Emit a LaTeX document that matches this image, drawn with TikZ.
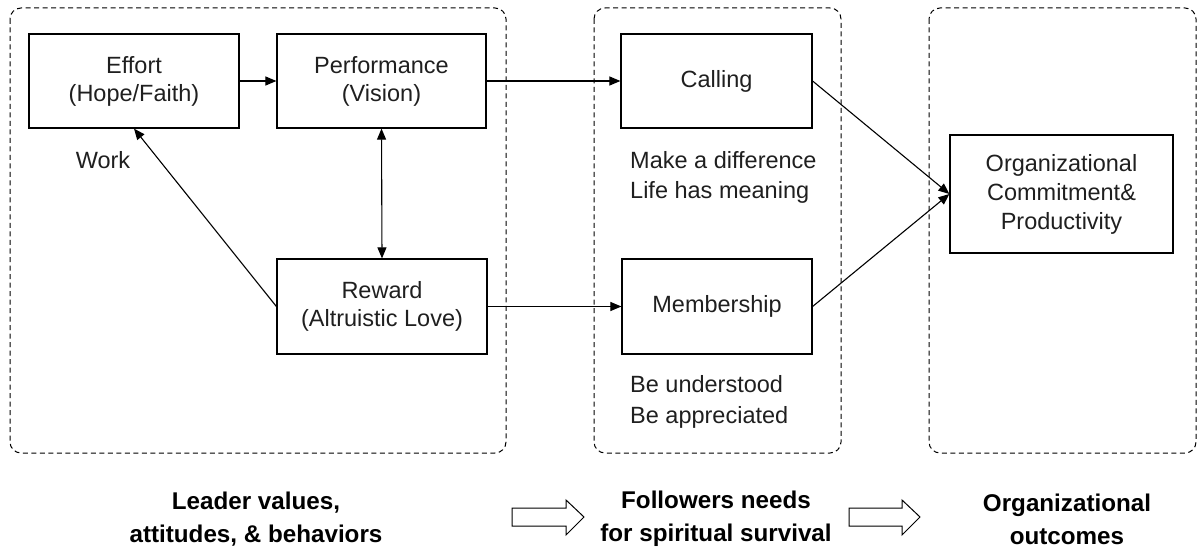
\documentclass[tikz,border=0pt]{standalone}
\usepackage{fontspec}
\setmainfont{Liberation Sans}
\usetikzlibrary{arrows.meta}
\begin{document}
\begin{tikzpicture}[x=1pt,y=-1pt,
  every node/.style={font=\fontsize{23.5}{28}\selectfont, text=black!88},
  box/.style={draw, line width=1.2pt, align=center, inner sep=0pt},
  group/.style={draw, dashed, dash pattern=on 5pt off 3.5pt, line width=1pt, rounded corners=11pt},
  link/.style={line width=1.1pt, -{Triangle[length=11pt,width=9pt]}},
  note/.style={anchor=west, inner sep=0pt},
  caption/.style={font=\fontsize{24.2}{33}\bfseries\selectfont, align=center, text=black},
  hollow/.style={draw, line width=1pt, fill=white}]
\useasboundingbox (0,0) rectangle (1202,548);

% grouping frames
\draw[group] (10,8) rectangle (506,453);
\draw[group] (594,8) rectangle (841,453);
\draw[group] (929,8) rectangle (1196,453);

% leader boxes
\node[box, minimum width=210pt, minimum height=94pt] (effort) at (134,81) {Effort\\(Hope/Faith)};
\node[box, minimum width=209pt, minimum height=94pt] (perf) at (381.5,81) {Performance\\(Vision)};
\node[box, minimum width=210pt, minimum height=95pt] (reward) at (382,306.5) {Reward\\(Altruistic Love)};

% follower boxes
\node[box, minimum width=191pt, minimum height=94pt] (calling) at (716.5,81) {Calling};
\node[box, minimum width=190pt, minimum height=95pt] (member) at (717,306.5) {Membership};

% outcome box
\node[box, minimum width=223pt, minimum height=118pt, font=\fontsize{23.5}{29}\selectfont] (org) at (1061.5,194) {Organizational\\Commitment\&\\Productivity};

% annotations
\node (work) at (103,160) {Work};
\node[note] (diff) at (630,160) {Make a difference};
\node[note] (life) at (630,192) {Life has meaning};
\node[note] (under) at (630,384) {Be understood};
\node[note] (appr) at (630,417) {Be appreciated};

% connectors
\draw[link] (effort.east) -- (perf.west);
\draw[link] (perf.east) -- (calling.west);
\draw[link] (reward.east) -- (member.west);
\draw[line width=1.1pt, {Triangle[length=11pt,width=9pt]}-{Triangle[length=11pt,width=9pt]}] (perf.south) -- (reward.north);
\draw[link] (reward.west) -- (effort.south);
\draw[link] (calling.east) -- (org.west);
\draw[link] (member.east) -- (org.west);

% stage captions
\node[caption] (lead) at (256,519) {Leader values,\\attitudes, \& behaviors};
\node[caption] (foll) at (716,519) {Followers needs\\for spiritual survival};
\node[caption] (outc) at (1067,519) {Organizational\\outcomes};

% hollow progression arrows
\draw[hollow] (512,508) -- (566,508) -- (566,500) -- (584,517) -- (566,535) -- (566,526) -- (512,526) -- cycle;
\draw[hollow] (849,508) -- (902,508) -- (902,500) -- (920,517) -- (902,535) -- (902,526) -- (849,526) -- cycle;
\end{tikzpicture}
\end{document}
